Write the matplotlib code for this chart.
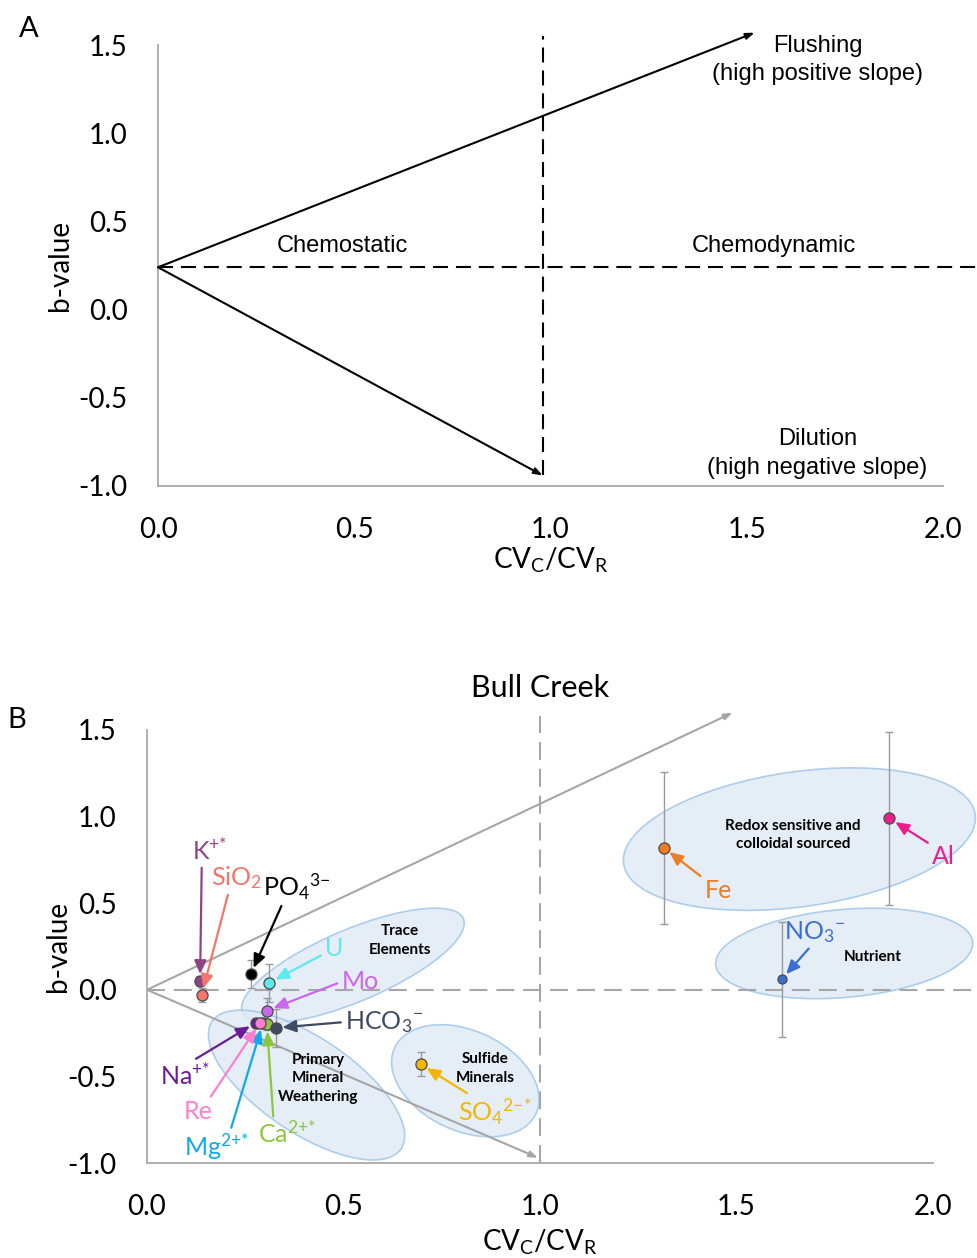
import matplotlib
matplotlib.use("Agg")
import matplotlib.pyplot as plt
import matplotlib.transforms as mtransforms
from matplotlib.patches import Ellipse

plt.rcParams["font.family"] = ["Lato", "DejaVu Sans"]
plt.rcParams["mathtext.default"] = "regular"

# ---------------- data ----------------
# Panel A: conceptual framework
ref_b = 0.24                      # b-value where both arrows start
flush_end = (1.52, 1.57)          # end of the flushing arrow
dilute_end = (0.98, -0.94)        # end of the dilution arrow
cv_split_a = 0.98                 # CVc/CVr = 1 divider

# Panel B: Bull Creek solutes
solutes = ["K", "SiO2", "PO4", "U", "Mo", "Na", "Mg", "Ca", "Re", "HCO3",
           "SO4", "Fe", "Al", "NO3"]
solute_labels = ["K$^{{+}{*}}$", "SiO$_2$", "PO$_4$$^{3{-}}$", "U", "Mo",
                 "Na$^{{+}{*}}$", "Mg$^{2{+}{*}}$", "Ca$^{2{+}{*}}$", "Re",
                 "HCO$_3$$^{{-}}$", "SO$_4$$^{2{-}{*}}$", "Fe", "Al",
                 "NO$_3$$^{{-}}$"]
cv_ratio = [0.135, 0.139, 0.264, 0.311, 0.305, 0.277, 0.295, 0.305, 0.288,
            0.327, 0.696, 1.315, 1.889, 1.615]
b_value = [0.05, -0.03, 0.09, 0.04, -0.12, -0.19, -0.19, -0.20, -0.19,
           -0.22, -0.43, 0.82, 0.99, 0.06]
b_err = [0.03, 0.04, 0.08, 0.11, 0.07, 0.03, 0.03, 0.03, 0.03,
         0.11, 0.07, 0.44, 0.50, 0.33]
colors = ["#8e4585", "#f4756b", "#000000", "#5ee8f0", "#cc66ee", "#6a1b9a",
          "#12a8ec", "#8cc63f", "#ff7fcf", "#3d4a63", "#f7b500", "#ee7d22",
          "#ec1c8c", "#3a6fd1"]

# label placement (data coords) and where on the label the arrow starts
label_pos = [(0.160, 0.805), (0.228, 0.65), (0.381, 0.595), (0.476, 0.237),
             (0.542, 0.046), (0.097, -0.495), (0.178, -0.908), (0.356, -0.832),
             (0.130, -0.705), (0.603, -0.186), (0.885, -0.705), (1.453, 0.573),
             (2.026, 0.768), (1.700, 0.335)]
arrow_rel = [(0.27, 0.0), (0.35, 0.0), (0.3, 0.0), (0.0, 0.3), (0.0, 0.5),
             (0.6, 1.0), (0.7, 1.0), (0.27, 1.0), (0.85, 1.0), (0.0, 0.5),
             (0.2, 1.0), (0.0, 1.0), (0.0, 1.0), (0.45, 0.0)]
marker_size = [8, 8, 8, 8, 8, 8, 8, 8, 8, 8, 8, 8, 8, 6.5]

# solute groups: name, centre (data), width/height in px, tilt in degrees
groups = ["Trace\nElements", "Primary\nMineral\nWeathering", "Sulfide\nMinerals",
          "Redox sensitive and\ncolloidal sourced", "Nutrient"]
group_centre = [(0.524, 0.14), (0.406, -0.55), (0.81, -0.525), (1.66, 0.87),
                (1.774, 0.21)]
group_size = [(240, 72), (228, 95), (156, 100), (355, 135), (258, 88)]
group_angle = [23, -34, -25, 8, 5]
group_text = [(0.644, 0.285), (0.435, -0.51), (0.86, -0.455), (1.644, 0.895),
              (1.847, 0.19)]

flush_end_b = (1.49, 1.60)
dilute_end_b = (0.995, -0.97)

# ---------------- figure ----------------
fig = plt.figure(figsize=(9.77, 12.58), dpi=100)
axA = fig.add_axes([158 / 977, 1 - 486 / 1258, (943 - 158) / 977, (486 - 45) / 1258])
axB = fig.add_axes([147 / 977, 1 - 1163 / 1258, (933 - 147) / 977, (1163 - 730) / 1258])

spine_col = "#a9a9a9"
for ax in (axA, axB):
    ax.set_xlim(0, 2.0)
    ax.set_ylim(-1.0, 1.5)
    ax.set_xticks([0, 0.5, 1.0, 1.5, 2.0])
    ax.set_yticks([-1.0, -0.5, 0.0, 0.5, 1.0, 1.5])
    ax.xaxis.set_major_formatter(matplotlib.ticker.FormatStrFormatter("%.1f"))
    ax.yaxis.set_major_formatter(matplotlib.ticker.FormatStrFormatter("%.1f"))
    ax.tick_params(length=0, labelsize=20)
    ax.tick_params(axis="x", pad=22)
    ax.tick_params(axis="y", pad=22)
    for s in ("top", "right"):
        ax.spines[s].set_visible(False)
    for s in ("left", "bottom"):
        ax.spines[s].set_color(spine_col)
        ax.spines[s].set_linewidth(1.3)
    ax.set_ylabel("b-value", fontsize=20)
    ax.set_xlabel("CV$_C$/CV$_R$", fontsize=20)

# ---------- panel A ----------
dashA = (0, (7.2, 3.8))
axA.plot([0, 2.09], [ref_b, ref_b], color="black", lw=1.5, ls=dashA, clip_on=False)
axA.plot([cv_split_a, cv_split_a], [dilute_end[1], 1.55], color="black", lw=1.5, ls=dashA,
         clip_on=False)
for end in (flush_end, dilute_end):
    axA.annotate("", xy=end, xytext=(0, ref_b),
                 arrowprops=dict(arrowstyle="-|>,head_length=0.5,head_width=0.18",
                                 color="black", lw=1.5, shrinkA=0, shrinkB=0),
                 annotation_clip=False)
txt_font = ["Liberation Sans", "DejaVu Sans"]
axA.text(0.47, 0.36, "Chemostatic", fontsize=17, family=txt_font, ha="center", va="center")
axA.text(1.57, 0.36, "Chemodynamic", fontsize=17, family=txt_font, ha="center", va="center")
axA.text(1.68, 1.415, "Flushing\n(high positive slope)", fontsize=17, family=txt_font,
         ha="center", va="center", linespacing=1.4)
axA.text(1.68, -0.815, "Dilution\n(high negative slope)", fontsize=17, family=txt_font,
         ha="center", va="center", linespacing=1.4)
axA.xaxis.set_label_coords(0.5, -0.135)
axA.yaxis.set_label_coords(-0.108, 0.5)

# ---------- panel B ----------
grey = "#a6a6a6"
dashB = (0, (8.6, 4.3))
axB.plot([0, 2.11], [0, 0], color=grey, lw=1.5, ls=dashB, clip_on=False, zorder=2)
axB.plot([1.0, 1.0], [-1.0, 1.58], color=grey, lw=1.5, ls=dashB, clip_on=False, zorder=2)
for end in (flush_end_b, dilute_end_b):
    axB.annotate("", xy=end, xytext=(0, 0),
                 arrowprops=dict(arrowstyle="-|>,head_length=0.5,head_width=0.18",
                                 color=grey, lw=1.5, shrinkA=0, shrinkB=0),
                 annotation_clip=False, zorder=2)

for (cx, cy), (w, h), ang, name, (tx, ty) in zip(group_centre, group_size, group_angle,
                                                   groups, group_text):
    tr = fig.dpi_scale_trans + mtransforms.ScaledTranslation(cx, cy, axB.transData)
    e = Ellipse((0, 0), w / 100, h / 100, angle=ang, transform=tr,
                facecolor="#dfe9f5", edgecolor="#9cc4e8", lw=1.2, alpha=0.8,
                zorder=1, clip_on=False)
    axB.add_patch(e)
    axB.text(tx, ty, name, fontsize=11, fontweight="bold", ha="center", va="center",
             linespacing=1.4, zorder=3)

for i in range(len(solutes)):
    axB.errorbar(cv_ratio[i], b_value[i], yerr=b_err[i], fmt="none", ecolor="#9a9a9a",
                 elinewidth=1.0, capsize=3, capthick=1.0, zorder=4)
for i in range(len(solutes)):
    axB.plot(cv_ratio[i], b_value[i], "o", ms=marker_size[i], mfc=colors[i],
             mec="#4a4a4a", mew=0.9, zorder=5)
    axB.annotate(solute_labels[i], xy=(cv_ratio[i], b_value[i]), xytext=label_pos[i],
                 color=colors[i], fontsize=18, ha="center", va="center",
                 arrowprops=dict(arrowstyle="-|>,head_length=0.45,head_width=0.2",
                                 color=colors[i], lw=1.6, shrinkA=1, shrinkB=5,
                                 relpos=arrow_rel[i]),
                 annotation_clip=False, zorder=6)

axB.set_title("Bull Creek", fontsize=22, pad=24)
axB.xaxis.set_label_coords(0.5, -0.15)
axB.yaxis.set_label_coords(-0.097, 0.5)

fig.text(29 / 977, 1 - 29 / 1258, "A", fontsize=21, ha="center", va="center")
fig.text(17 / 977, 1 - 720 / 1258, "B", fontsize=21, ha="center", va="center")

fig.savefig("out.png", dpi=100)
